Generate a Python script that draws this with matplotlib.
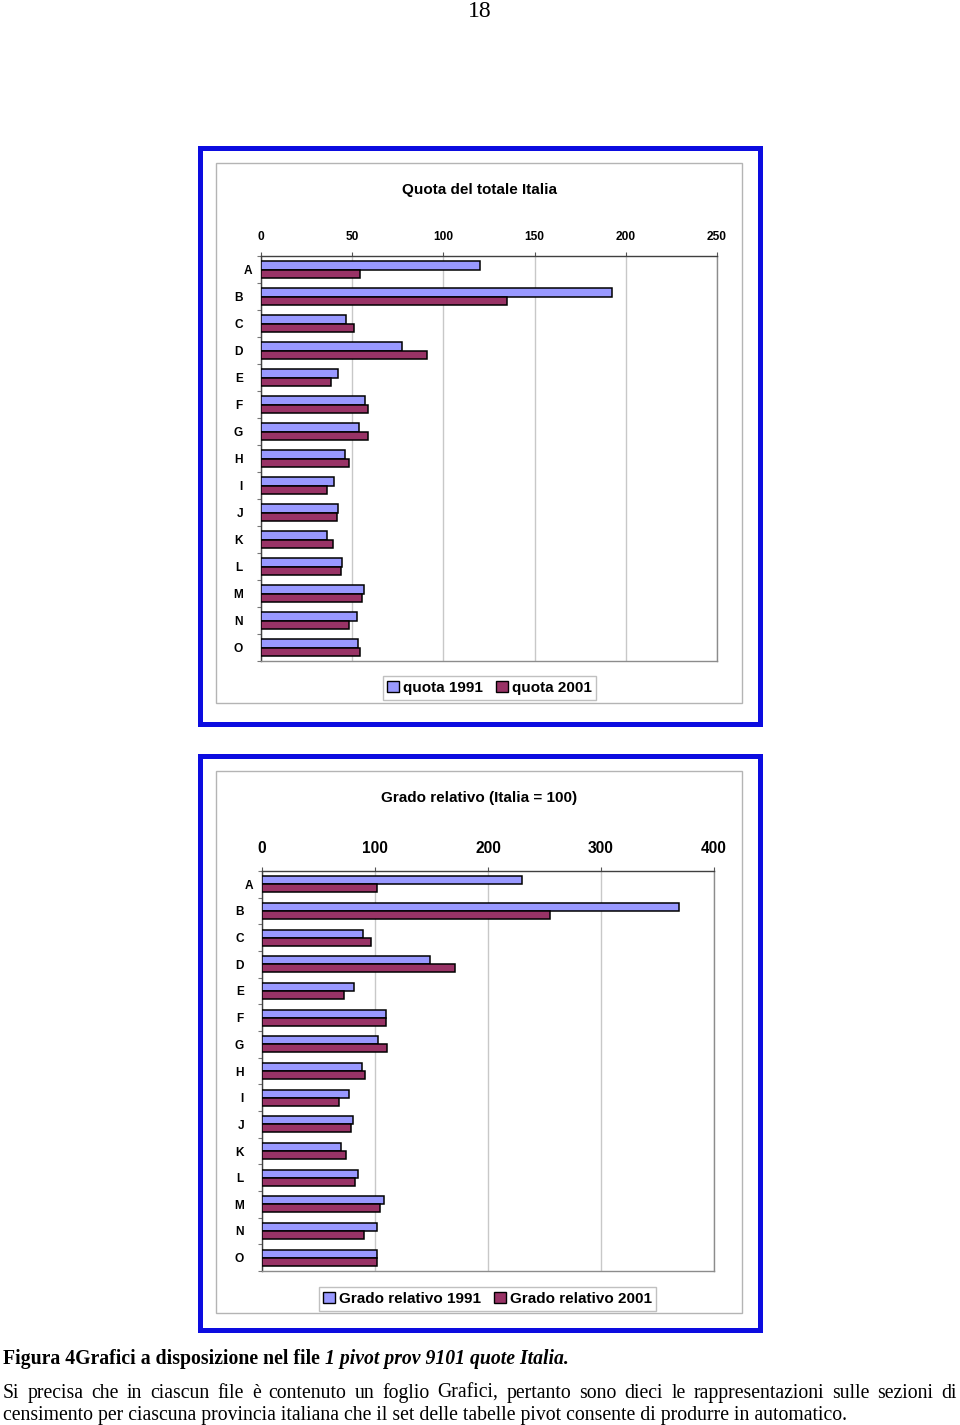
import matplotlib.pyplot as plt
from matplotlib.patches import Rectangle, Patch
from matplotlib.transforms import ScaledTranslation

W, H = 960, 1425

# === Data ===
categories = list("ABCDEFGHIJKLMNO")
quota_1991 = [120.1, 192.4, 46.6, 77.5, 42.0, 57.2, 53.9, 46.2, 40.2, 42.0, 36.4, 44.2, 56.5, 52.8, 53.0]
quota_2001 = [54.1, 134.7, 51.2, 90.8, 38.4, 58.5, 58.7, 48.1, 36.2, 41.5, 39.5, 43.7, 55.2, 48.1, 54.1]
grado_1991 = [230.1, 369.4, 89.4, 148.7, 81.2, 109.5, 103.0, 88.8, 77.0, 80.9, 69.9, 85.0, 108.3, 101.8, 101.5]
grado_2001 = [101.8, 254.6, 96.8, 171.1, 72.3, 110.1, 110.6, 90.9, 68.1, 78.5, 74.3, 82.7, 104.4, 90.6, 102.1]
quota_ticks = [0, 50, 100, 150, 200, 250]
grado_ticks = [0, 100, 200, 300, 400]

C1991 = "#9999ff"
C2001 = "#993366"
SANS = "Liberation Sans"
SERIF = "Liberation Serif"

fig = plt.figure(figsize=(W / 100, H / 100), dpi=100)


def box(x0, y0, x1, y1):
    # pixel box (top-left origin) -> figure fraction rect
    return [x0 / W, 1 - y1 / H, (x1 - x0) / W, (y1 - y0) / H]


def frame(x0, y0, x1, y1, **kw):
    r = box(x0, y0, x1, y1)
    fig.patches.append(Rectangle((r[0], r[1]), r[2], r[3], transform=fig.transFigure,
                                 fill=False, **kw))


def draw_chart(outer, inner, plot, title, title_y, ticks, s1, s2, labels, leg_xy,
               tick_size, tick_pad):
    frame(*outer, edgecolor="#0c0ce0", linewidth=3.6)
    frame(*inner, edgecolor="#b4b4b4", linewidth=1.0)
    fig.text((inner[0] + inner[2]) / 2 / W, 1 - title_y / H, title, ha="center", va="center",
             family=SANS, weight="bold", fontsize=11)

    ax = fig.add_axes(box(*plot))
    y = list(range(len(categories)))
    h = 0.3
    ax.barh([i - h / 2 for i in y], s1, height=h, color=C1991, edgecolor="black",
            linewidth=1.1, zorder=3)
    ax.barh([i + h / 2 for i in y], s2, height=h, color=C2001, edgecolor="black",
            linewidth=1.1, zorder=3)
    ax.set_xlim(ticks[0], ticks[-1])
    ax.set_ylim(len(categories) - 0.5, -0.5)
    ax.set_xticks(ticks)
    ax.xaxis.tick_top()
    ax.tick_params(axis="x", direction="out", length=3, width=0.8, color="#555555",
                   pad=tick_pad, labelsize=tick_size)
    ax.set_yticks(y)
    ax.set_yticklabels(categories)
    ax.set_yticks([i + 0.5 for i in range(-1, len(categories))], minor=True)
    ax.tick_params(axis="y", which="major", length=0, pad=13, labelsize=8.6)
    ax.tick_params(axis="y", which="minor", direction="out", length=3, width=0.8,
                   color="#777777")
    for lbl in ax.get_xticklabels() + ax.get_yticklabels():
        lbl.set_family(SANS)
        lbl.set_weight("bold")
    # first category label sits a little further right in the original
    first = ax.get_yticklabels()[0]
    first.set_transform(first.get_transform() + ScaledTranslation(0.09, 0, fig.dpi_scale_trans))
    ax.grid(axis="x", color="#c8c8c8", linewidth=1.0, zorder=0)
    for side in ["top", "left"]:
        ax.spines[side].set_color("#404040")
    for side in ["right", "bottom"]:
        ax.spines[side].set_color("#8c8c8c")
    for sp in ax.spines.values():
        sp.set_linewidth(1.0)

    handles = [Patch(facecolor=C1991, edgecolor="black", linewidth=1.0),
               Patch(facecolor=C2001, edgecolor="black", linewidth=1.0)]
    leg = fig.legend(handles, labels, loc="center",
                     bbox_to_anchor=(leg_xy[0] / W, 1 - leg_xy[1] / H), ncol=2,
                     prop={"family": SANS, "weight": "bold", "size": 11},
                     handlelength=0.75, handleheight=0.75, handletextpad=0.25,
                     columnspacing=0.9, borderpad=0.3, borderaxespad=0,
                     fancybox=False, framealpha=1)
    leg.get_frame().set_edgecolor("#c0c0c0")
    leg.get_frame().set_linewidth(1.0)
    return ax


draw_chart((199.5, 148, 759.5, 723.5), (216, 163, 742, 703), (261, 256, 717, 661),
           "Quota del totale Italia", 190, quota_ticks, quota_1991, quota_2001,
           ["quota 1991", "quota 2001"], (489.5, 688), 8.6, 6)

draw_chart((199.5, 755.5, 759.5, 1329.5), (216, 771, 742, 1313), (262, 871, 714, 1271),
           "Grado relativo (Italia = 100)", 798, grado_ticks, grado_1991, grado_2001,
           ["Grado relativo 1991", "Grado relativo 2001"], (487.5, 1299), 11.2, 8)

# === Page text ===
fig.text(480 / W, 1 - 17 / H, "18", ha="center", va="baseline", family=SERIF, fontsize=17)

renderer = fig.canvas.get_renderer()
cap_size = 14.2
cap1 = fig.text(3 / W, 1 - 1364 / H, "Figura 4Grafici a disposizione nel file ",
                family=SERIF, weight="bold", fontsize=cap_size, va="baseline")
w1 = cap1.get_window_extent(renderer).width
fig.text((3 + w1) / W, 1 - 1364 / H, "1 pivot prov 9101 quote Italia.", family=SERIF,
         weight="bold", style="italic", fontsize=cap_size, va="baseline")

body_size = 14.2
line1 = "Si precisa che in ciascun file è contenuto un foglio Grafici, pertanto sono dieci le rappresentazioni sulle sezioni di"
line2 = "censimento per ciascuna provincia italiana che il set delle tabelle pivot consente di produrre in automatico."

# justified first line
words = line1.split()
texts = [fig.text(0, 1 - 1398 / H, w, family=SERIF, fontsize=body_size, va="baseline")
         for w in words]
widths = [t.get_window_extent(renderer).width for t in texts]
gap = (957 - 3 - sum(widths)) / (len(words) - 1)
x = 3
for t, w in zip(texts, widths):
    t.set_x(x / W)
    x += w + gap

fig.text(3 / W, 1 - 1420 / H, line2, family=SERIF, fontsize=body_size, va="baseline")

plt.savefig("out.png", dpi=100)
